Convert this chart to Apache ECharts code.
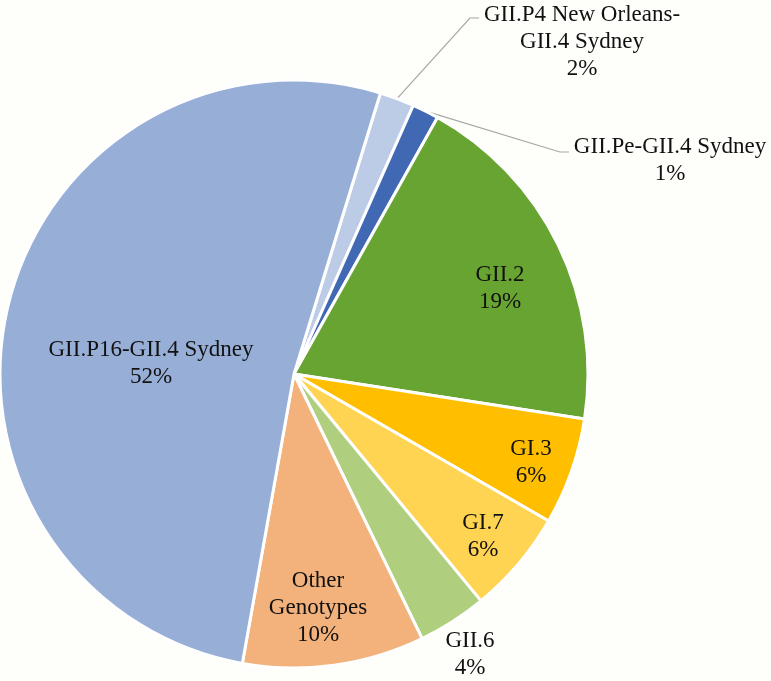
<!DOCTYPE html>
<html>
<head>
<meta charset="utf-8">
<script src="https://cdn.jsdelivr.net/npm/echarts@6/dist/echarts.min.js"></script>
<style>
html,body{margin:0;padding:0;background:#fefefa;}
#chart{width:771px;height:681px;}
</style>
</head>
<body>
<div id="chart"></div>
<script>
// ---- data ----
const categories = [
  'GII.P4 New Orleans-\nGII.4 Sydney',
  'GII.Pe-GII.4 Sydney',
  'GII.2',
  'GI.3',
  'GI.7',
  'GII.6',
  'Other\nGenotypes',
  'GII.P16-GII.4 Sydney'
];
const shares = [1.9, 1.47, 19.35, 5.9, 5.7, 3.8, 10.0, 52.0];

// ---- styles ----
const sliceColors = ['#bccbe6', '#4168b2', '#68a432', '#ffbf00', '#ffd452', '#afcf7f', '#f3b27c', '#97aed7'];
const labelPlacement = ['outside', 'outside', 'inside', 'inside', 'inside', 'outside', 'inside', 'inside'];
const withLeader = [true, true, false, false, false, false, false, false];
// label block centres relative to pie centre (px)
const labelOffsets = [[288, -332], [376, -214], [206, -86], [237, 88], [189, 162], [176, 280], [24, 234], [-143, -11]];
// leader end height below label top (px)
const leaderDy = [16.5, 19, 0, 0, 0, 0, 0, 0];

const CX = 294, CY = 374, R = 294;
const FONT = 'Times New Roman, Liberation Serif, Tinos, DejaVu Serif, serif';

const chart = echarts.init(document.getElementById('chart'), null, {renderer: 'canvas'});

const labelStyle = {
  show: true,
  formatter: p => p.name + '\n' + Math.round(p.value) + '%',
  fontFamily: FONT,
  fontSize: 23,
  lineHeight: 27,
  color: '#111111',
  align: 'center'
};

const data = categories.map((name, i) => ({
  name: name,
  value: shares[i],
  itemStyle: {color: sliceColors[i]},
  label: Object.assign({}, labelStyle, {position: labelPlacement[i]}),
  labelLine: {show: withLeader[i]}
}));

chart.setOption({
  backgroundColor: '#fefefa',
  animation: false,
  textStyle: {fontFamily: FONT},
  series: [{
    type: 'pie',
    center: [CX, CY],
    radius: [0, R],
    startAngle: 72.9,
    clockwise: true,
    avoidLabelOverlap: false,
    itemStyle: {borderColor: '#ffffff', borderWidth: 3},
    label: labelStyle,
    labelLine: {
      lineStyle: {color: '#a6a6a6', width: 1.2},
      length: 15,
      length2: 15
    },
    emphasis: {disabled: true},
    labelLayout: function (p) {
      const i = p.dataIndex;
      const x = CX + labelOffsets[i][0];
      const y = CY + labelOffsets[i][1];
      const out = {x: x, y: y, align: 'center', verticalAlign: 'middle'};
      if (withLeader[i] && p.labelLinePoints) {
        const w = p.labelRect.width, h = p.labelRect.height;
        const left = x - w / 2, top = y - h / 2;
        const ey = top + leaderDy[i];
        out.labelLinePoints = [p.labelLinePoints[0], [left - 14, ey], [left - 5, ey]];
      }
      return out;
    },
    data: data
  }]
});
</script>
</body>
</html>
